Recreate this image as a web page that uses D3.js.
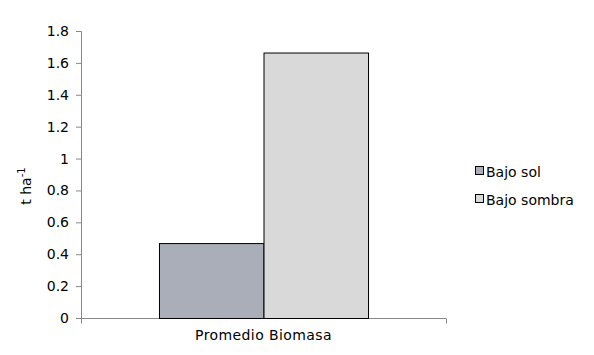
<!DOCTYPE html>
<html><head><meta charset="utf-8">
<script src="https://cdn.jsdelivr.net/npm/d3@7"></script>
<style>body{margin:0;background:#fff;}svg{display:block;font-family:"DejaVu Sans",Verdana,sans-serif;}</style>
</head><body>
<svg id="c" width="594" height="355"></svg>
<script>
const categories = ["Promedio Biomasa"];
const seriesNames = ["Bajo sol", "Bajo sombra"];
const seriesValues = [0.47, 1.665];
const seriesColors = ["#a9aeb8", "#d9d9d9"];
const yTicks = [0, 0.2, 0.4, 0.6, 0.8, 1, 1.2, 1.4, 1.6, 1.8];

const svg = d3.select("#c");
const m = {left: 81, right: 446, top: 31, bottom: 318};
const y = d3.scaleLinear().domain([0, 1.8]).range([m.bottom, m.top]);
const x0 = d3.scaleBand().domain(categories).range([m.left, m.right]).paddingInner(0).paddingOuter(0.373);
const x1 = d3.scaleBand().domain(seriesNames).range([0, x0.bandwidth()]);

const yAxis = svg.append("g").attr("transform", `translate(${m.left},0)`)
  .call(d3.axisLeft(y).tickValues(yTicks).tickSize(5).tickPadding(7).tickFormat(d => String(d)));
yAxis.selectAll("path,line").attr("stroke", "#888");
yAxis.select(".domain").attr("d", `M-5,${m.bottom}.5H0.5V${m.top}.5H-5`);
yAxis.selectAll("text").attr("font-size", 14).attr("fill", "#000").attr("font-family", "DejaVu Sans");

const xAxis = svg.append("g").attr("transform", `translate(0,${m.bottom}.5)`);
xAxis.append("line").attr("x1", m.left).attr("x2", m.right).attr("stroke", "#888");
[m.left, m.right].forEach(xx => xAxis.append("line").attr("x1", xx + 0.5).attr("x2", xx + 0.5).attr("y1", 0).attr("y2", 5).attr("stroke", "#888"));

const g = svg.append("g");
categories.forEach(c => {
  g.selectAll(null).data(seriesNames).enter().append("rect")
    .attr("x", d => x0(c) + x1(d) + 0.5)
    .attr("y", (d, i) => y(seriesValues[i]) + 0.5)
    .attr("width", x1.bandwidth())
    .attr("height", (d, i) => m.bottom - y(seriesValues[i]))
    .attr("fill", (d, i) => seriesColors[i])
    .attr("stroke", "#000").attr("stroke-width", 1);
  svg.append("text").attr("x", x0(c) + x0.bandwidth() / 2).attr("y", 340)
    .attr("text-anchor", "middle").attr("font-size", 14).attr("letter-spacing", 0.4).text(c);
});

svg.append("text").attr("transform", "translate(31,186) rotate(-90)").attr("text-anchor", "middle")
  .attr("font-size", 14).html('t ha<tspan dy="-6" font-size="10">-1</tspan>');

const leg = svg.append("g");
seriesNames.forEach((s, i) => {
  const yy = 177 + i * 28;
  leg.append("rect").attr("x", 475.5).attr("y", yy - 10.5).attr("width", 8).attr("height", 8)
    .attr("fill", seriesColors[i]).attr("stroke", "#000");
  leg.append("text").attr("x", 486).attr("y", yy).attr("font-size", 14).text(s);
});
</script>
</body></html>
